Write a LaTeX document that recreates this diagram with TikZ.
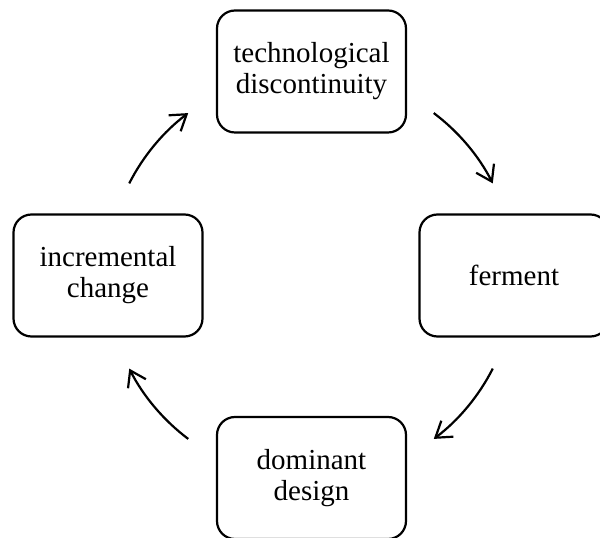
\documentclass[tikz,border=0pt]{standalone}
\usepackage{fontspec}
\setmainfont{Liberation Serif}
\usetikzlibrary{arrows.meta}
\begin{document}
\begin{tikzpicture}[x=1pt,y=1pt,
  stage/.style={draw, line width=2.2pt, rounded corners=18pt,
    minimum width=189pt, minimum height=122pt, inner sep=0pt,
    align=center, font=\fontsize{29}{31}\selectfont},
  turn/.style={line width=2.2pt, -{Straight Barb[length=15pt,width=20pt]}}]
\useasboundingbox (0,0) rectangle (600,538);
\clip (0,0) rectangle (600,538);

% the four stages of the cycle
\node[stage] (disc) at (311.5,466.5) {technological\\discontinuity};
\node[stage] (ferm) at (514,262.5) {ferment};
\node[stage] (dom)  at (311.5,60)   {dominant\\design};
\node[stage] (incr) at (108,262.5)  {incremental\\change};

% arrows run clockwise on a circle round the middle
\coordinate (o) at (311,262);
\coordinate (a1) at ([shift={(53:204)}]o);
\coordinate (a2) at ([shift={(-27:204)}]o);
\coordinate (a3) at ([shift={(233:204)}]o);
\coordinate (a4) at ([shift={(153:204)}]o);

\draw[turn] (a1) arc[start angle=53,  end angle=27,  radius=204];
\draw[turn] (a2) arc[start angle=-27, end angle=-53, radius=204];
\draw[turn] (a3) arc[start angle=233, end angle=207, radius=204];
\draw[turn] (a4) arc[start angle=153, end angle=127, radius=204];
\end{tikzpicture}
\end{document}
